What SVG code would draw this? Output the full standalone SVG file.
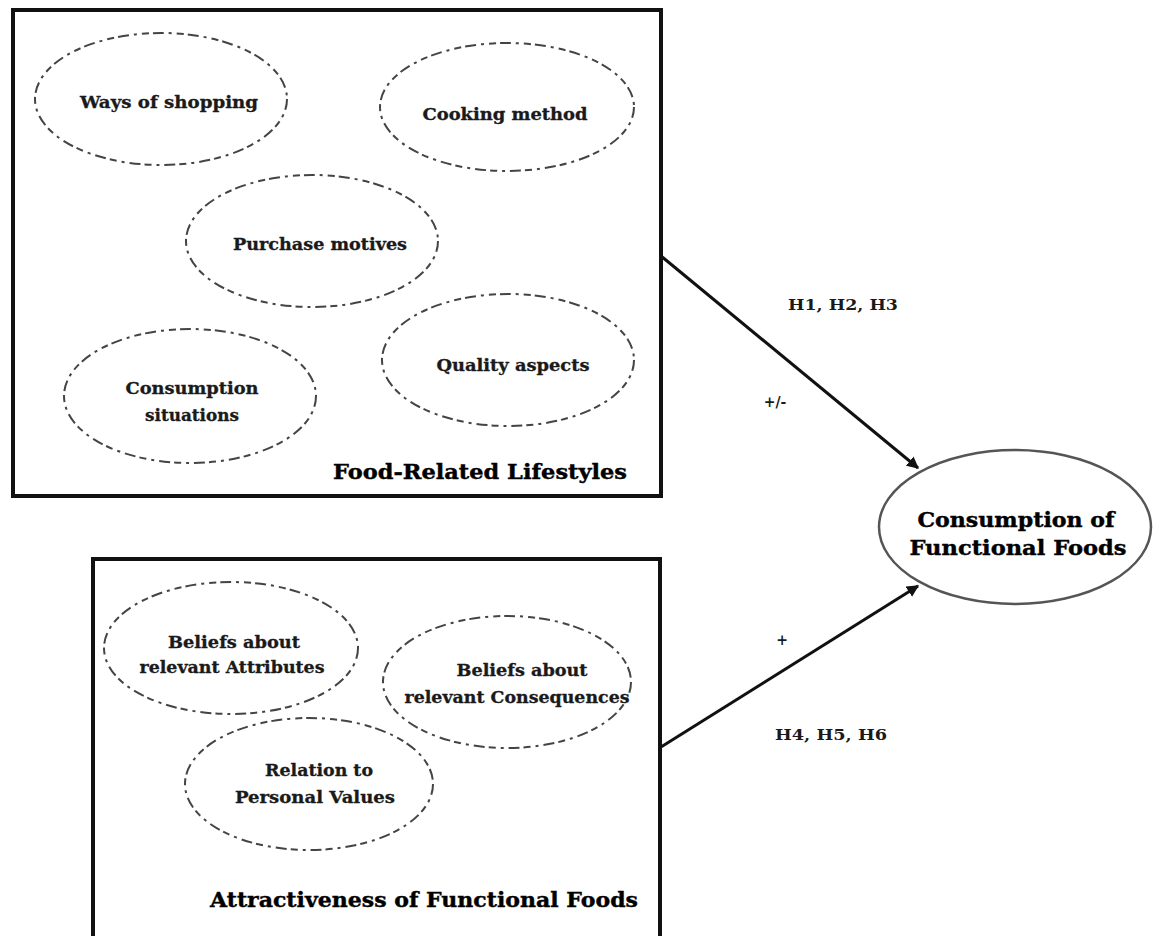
<svg xmlns="http://www.w3.org/2000/svg" width="1153" height="936" viewBox="0 0 1153 936">
<defs>
<style>
.box{fill:none;stroke:#111;stroke-width:4}
.dash{fill:none;stroke:#444;stroke-width:2;stroke-dasharray:11 5 3 5 7 4}
.lbl{font-family:"DejaVu Serif","Liberation Serif",serif;font-weight:bold;font-size:16px;fill:#1a1a1a;stroke:#1a1a1a;stroke-width:0.3;text-anchor:middle}
.title{font-family:"DejaVu Serif","Liberation Serif",serif;font-weight:bold;font-size:21px;fill:#000;stroke:#000;stroke-width:0.4;text-anchor:middle}
.hyp{font-family:"DejaVu Serif","Liberation Serif",serif;font-weight:bold;font-size:14px;fill:#1a1a1a;text-anchor:middle}
.conn{stroke:#111;stroke-width:3;fill:none}
</style>
<marker id="ah" viewBox="0 0 10 10" refX="9" refY="5" markerWidth="4" markerHeight="4" orient="auto" markerUnits="strokeWidth">
<path d="M0,0 L10,5 L0,10 z" fill="#111"/>
</marker>
</defs>
<rect width="1153" height="936" fill="#fff"/>

<g id="food-related-lifestyles">
<rect class="box" x="13" y="10" width="648" height="486"/>
<text class="title" x="480" y="479" textLength="294" lengthAdjust="spacingAndGlyphs">Food-Related Lifestyles</text>
</g>
<g id="ways-of-shopping">
<ellipse class="dash" cx="161" cy="99" rx="126" ry="66"/>
<text class="lbl" x="169" y="108" textLength="178" lengthAdjust="spacingAndGlyphs">Ways of shopping</text>
</g>
<g id="cooking-method">
<ellipse class="dash" cx="507" cy="107" rx="127" ry="64"/>
<text class="lbl" x="505" y="120" textLength="165" lengthAdjust="spacingAndGlyphs">Cooking method</text>
</g>
<g id="purchase-motives">
<ellipse class="dash" cx="312" cy="241" rx="126" ry="66"/>
<text class="lbl" x="320" y="250" textLength="174" lengthAdjust="spacingAndGlyphs">Purchase motives</text>
</g>
<g id="consumption-situations">
<ellipse class="dash" cx="190" cy="396" rx="126" ry="67"/>
<text class="lbl" x="192" y="394" textLength="133" lengthAdjust="spacingAndGlyphs">Consumption</text>
<text class="lbl" x="192" y="421" textLength="94" lengthAdjust="spacingAndGlyphs">situations</text>
</g>
<g id="quality-aspects">
<ellipse class="dash" cx="508" cy="360" rx="126" ry="66"/>
<text class="lbl" x="513" y="371" textLength="153" lengthAdjust="spacingAndGlyphs">Quality aspects</text>
</g>

<g id="attractiveness">
<path class="box" d="M93,940 V559 H660 V940"/>
<text class="title" x="424" y="907" textLength="428" lengthAdjust="spacingAndGlyphs">Attractiveness of Functional Foods</text>
</g>
<g id="beliefs-attributes">
<ellipse class="dash" cx="231" cy="648" rx="127" ry="66"/>
<text class="lbl" x="234" y="648" textLength="132" lengthAdjust="spacingAndGlyphs">Beliefs about</text>
<text class="lbl" x="232" y="673" textLength="185" lengthAdjust="spacingAndGlyphs">relevant Attributes</text>
</g>
<g id="beliefs-consequences">
<ellipse class="dash" cx="507" cy="682" rx="124" ry="66"/>
<text class="lbl" x="522" y="676" textLength="131" lengthAdjust="spacingAndGlyphs">Beliefs about</text>
<text class="lbl" x="517" y="703" textLength="225" lengthAdjust="spacingAndGlyphs">relevant Consequences</text>
</g>
<g id="relation-values">
<ellipse class="dash" cx="309" cy="784" rx="124" ry="66"/>
<text class="lbl" x="319" y="776" textLength="108" lengthAdjust="spacingAndGlyphs">Relation to</text>
<text class="lbl" x="315" y="803" textLength="160" lengthAdjust="spacingAndGlyphs">Personal Values</text>
</g>

<g id="consumption-functional-foods">
<ellipse cx="1015" cy="527" rx="136" ry="77" fill="none" stroke="#555" stroke-width="2.5"/>
<text class="title" x="1016" y="527" textLength="197" lengthAdjust="spacingAndGlyphs">Consumption of</text>
<text class="title" x="1018" y="555" textLength="217" lengthAdjust="spacingAndGlyphs">Functional Foods</text>
</g>

<g id="connectors">
<line class="conn" x1="661" y1="256" x2="918" y2="468" marker-end="url(#ah)"/>
<line class="conn" x1="661" y1="747" x2="918" y2="586" marker-end="url(#ah)"/>
<text class="hyp" x="843" y="310" textLength="110" lengthAdjust="spacingAndGlyphs">H1, H2, H3</text>
<text class="hyp" x="775" y="407">+/-</text>
<text class="hyp" x="782" y="645">+</text>
<text class="hyp" x="831" y="740" textLength="112" lengthAdjust="spacingAndGlyphs">H4, H5, H6</text>
</g>
</svg>
